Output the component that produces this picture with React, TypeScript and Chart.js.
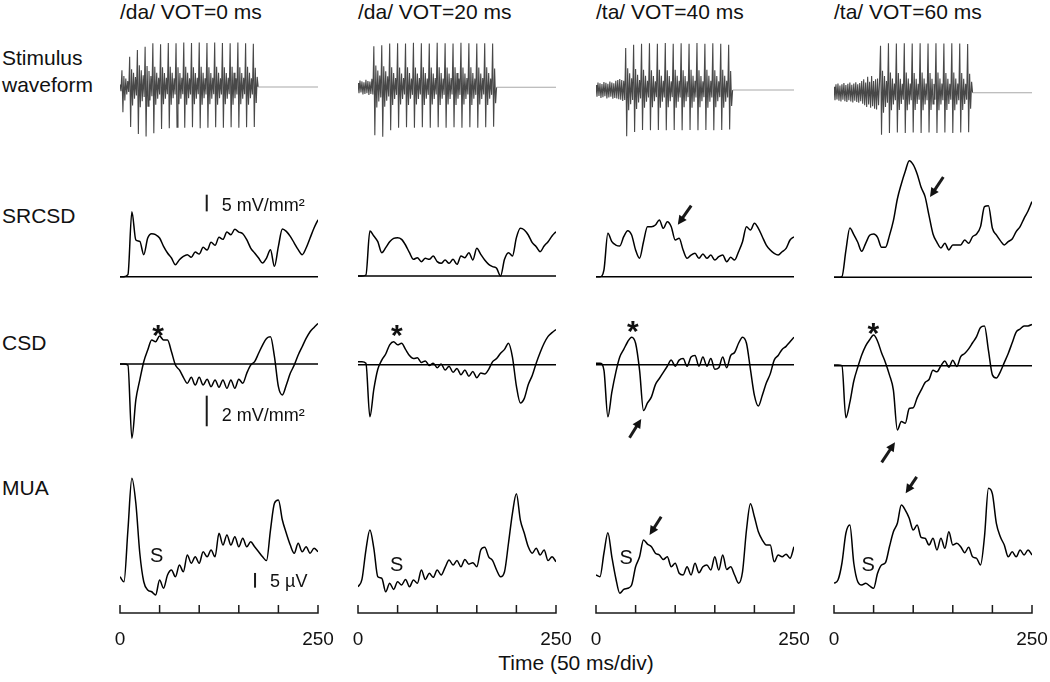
import React, { useEffect, useRef } from "react";
import { Chart, registerables } from "chart.js";

Chart.register(...registerables);

// ---------------- data ----------------
const CONDITIONS = ["/da/ VOT=0 ms", "/da/ VOT=20 ms", "/ta/ VOT=40 ms", "/ta/ VOT=60 ms"];
const ROW_LABELS = ["Stimulus", "waveform", "SRCSD", "CSD", "MUA"];
const X_AXIS_TITLE = "Time (50 ms/div)";
const TIME_RANGE = [0, 250];
const TICK_VALUES = [0, 50, 100, 150, 200, 250];
const TICK_LABELS = ["0", "", "", "", "", "250"];
const TRACE_STEP_MS = 5;

// stimulus waveforms (arbitrary units, sampled every STIM_STEP_MS from t = 0)
const STIM_STEP_MS = [1.22, 1.25, 1.25, 1.25];
const STIM_VOT0 = [
  6, -10,
  40, -60, 26, -32, 20, -18, 14, -12,
  72, -95, 42, -44, 34, -28, 24, -20,
  88, -112, 52, -48, 40, -34, 28, -24,
  96, -118, 50, -46, 38, -32, 26, -22,
  104, -110, 48, -42, 34, -28, 22, -18,
  102, -100, 47, -41, 33, -28, 22, -17,
  105, -98, 48, -42, 34, -27, 21, -18,
  104, -96, 47, -41, 33, -28, 22, -17,
  106, -97, 48, -42, 34, -27, 21, -18,
  105, -96, 47, -41, 33, -28, 22, -17,
  106, -98, 48, -42, 34, -27, 21, -18,
  105, -97, 47, -41, 33, -28, 22, -17,
  106, -96, 48, -42, 34, -27, 21, -18,
  105, -97, 47, -41, 33, -28, 22, -17,
  104, -96, 48, -42, 34, -27, 21, -18,
  106, -97, 47, -41, 33, -28, 22, -17,
  104, -96, 48, -42, 34, -27, 21, -18,
  103, -95, 46, -38, 24,
  0,
];
const STIM_VOT20 = [
  10, -14, 16, -12, 14, -17, 12, -16, 18, -14, 15, -18, 14, -16, 20, -17,
  98, -114, 52, -48, 40, -34, 28, -24,
  100, -118, 50, -46, 38, -32, 26, -22,
  104, -102, 48, -42, 34, -28, 22, -18,
  105, -96, 47, -41, 33, -28, 22, -17,
  104, -95, 48, -42, 34, -27, 21, -18,
  106, -96, 47, -41, 33, -28, 22, -17,
  105, -95, 48, -42, 34, -27, 21, -18,
  104, -96, 47, -41, 33, -28, 22, -17,
  106, -95, 48, -42, 34, -27, 21, -18,
  105, -96, 47, -41, 33, -28, 22, -17,
  104, -95, 48, -42, 34, -27, 21, -18,
  106, -96, 47, -41, 33, -28, 22, -17,
  105, -95, 48, -42, 34, -27, 21, -18,
  104, -96, 47, -41, 33, -28, 22, -17,
  105, -95, 48, -42, 34, -27, 21, -18,
  104, -94, 45, -38,
  0,
];
const STIM_VOT40 = [
  12, -16, 18, -14, 16, -19, 14, -17, 19, -15, 17, -20, 15, -18, 20, -16,
  18, -21, 16, -19, 22, -20, 24, -22, 26, -23, 24, -26, 22, -24,
  100, -110, 52, -48, 40, -34, 28, -24,
  108, -100, 50, -45, 36, -30, 24, -20,
  110, -95, 48, -42, 34, -28, 22, -18,
  111, -96, 47, -41, 33, -27, 21, -17,
  110, -95, 48, -42, 34, -28, 22, -18,
  112, -96, 47, -41, 33, -27, 21, -17,
  110, -95, 48, -42, 34, -28, 22, -18,
  111, -96, 47, -41, 33, -27, 21, -17,
  110, -95, 48, -42, 34, -28, 22, -18,
  112, -96, 47, -41, 33, -27, 21, -17,
  110, -95, 48, -42, 34, -28, 22, -18,
  111, -96, 47, -41, 33, -27, 21, -17,
  110, -95, 48, -42, 34, -28, 22, -18,
  108, -94, 45, -38,
  0,
];
const STIM_VOT60 = [
  14, -18, 20, -16, 22, -19, 17, -21, 20, -17, 23, -20, 18, -22, 21, -18,
  24, -21, 19, -23, 22, -19, 25, -22, 20, -24, 23, -20, 28, -26, 32, -30,
  24, -34, 38, -28, 26, -36, 40, -32, 28, -38, 32, -40, 34, -30, 26,
  112, -100, 52, -48, 40, -34, 28, -24,
  118, -96, 48, -42, 34, -28, 22, -18,
  117, -95, 47, -41, 33, -27, 21, -17,
  118, -96, 48, -42, 34, -28, 22, -18,
  117, -95, 47, -41, 33, -27, 21, -17,
  118, -96, 48, -42, 34, -28, 22, -18,
  117, -95, 47, -41, 33, -27, 21, -17,
  118, -96, 48, -42, 34, -28, 22, -18,
  117, -95, 47, -41, 33, -27, 21, -17,
  118, -96, 48, -42, 34, -28, 22, -18,
  117, -95, 47, -41, 33, -27, 21, -17,
  116, -94, 45, -38, 26,
  0,
];

// SRCSD (mV/mm^2), sampled every 5 ms from 0 to 250 ms
const SRCSD_VOT0 = [0, 0, 0.6, 19.5, 11, 10.6, 6.6, 11.6, 12.9, 12.6, 11.6, 9.1, 7.1, 5.6, 3.6, 5.1, 6.1, 6.6, 5.8, 7.4, 6.8, 8.8, 8.0, 10.3, 9.4, 11.8, 11.2, 13.4, 12.6, 14.2, 13.4, 12.9, 11.1, 8.6, 7.1, 5.6, 4.1, 5.6, 8.1, 3.1, 9.1, 14.3, 13.6, 12.1, 10.1, 8.1, 6.6, 8.6, 11.6, 14.6, 17.1];
const SRCSD_VOT20 = [0, 0, 0.3, 13.5, 12.0, 10.3, 7.0, 8.5, 10.3, 11.3, 11.5, 11.0, 9.3, 7.0, 5.0, 5.5, 4.3, 5.3, 5.0, 6.0, 4.3, 3.8, 4.8, 3.8, 5.0, 3.5, 6.0, 5.5, 7.0, 4.8, 8.3, 6.5, 4.8, 3.5, 2.8, 2.3, 0, 5.0, 7.0, 6.0, 11.5, 14.3, 13.8, 12.3, 10.0, 8.8, 7.3, 9.0, 10.3, 12.0, 13.3];
const SRCSD_VOT40 = [0, 0, 2.0, 13.0, 10.5, 9.5, 9.2, 12.0, 13.8, 12.5, 8.0, 5.5, 10.5, 15.0, 15.0, 15.5, 17.0, 14.5, 16.5, 15.0, 11.0, 11.5, 8.0, 5.5, 6.5, 7.0, 5.5, 6.8, 5.5, 6.5, 5.0, 6.0, 6.5, 4.5, 5.8, 5.0, 7.5, 10.5, 15.0, 14.0, 16.0, 14.5, 12.0, 9.5, 8.0, 7.0, 6.5, 7.5, 8.5, 11.0, 12.0];
const SRCSD_VOT60 = [0, 0, 0.2, 8.0, 14.8, 12.8, 10.5, 7.8, 10.2, 12.6, 13.0, 12.0, 9.0, 9.0, 12.5, 17.0, 23.5, 28.0, 31.8, 35.0, 33.8, 31.0, 27.0, 24.2, 18.5, 13.0, 10.5, 8.8, 10.2, 8.2, 9.7, 9.7, 9.7, 11.2, 10.2, 12.2, 13.0, 15.2, 21.2, 21.5, 14.7, 12.7, 11.0, 9.7, 10.7, 11.5, 13.7, 15.2, 17.7, 19.9, 22.7];

// CSD (mV/mm^2)
const CSD_VOT0 = [0, 0, -0.07, -4.85, -2.35, -1.04, 0.15, 0.91, 1.57, 1.46, 1.83, 1.57, 1.57, 0.8, -0.07, -0.39, -0.87, -1.26, -0.87, -1.37, -0.87, -1.37, -1.0, -1.48, -1.04, -1.52, -1.04, -1.59, -1.04, -1.59, -1.0, -1.26, -0.61, -0.07, 0.15, 0.7, 1.24, 1.67, 1.78, 0.48, -1.48, -2.02, -1.37, -0.61, -0.07, 0.59, 1.13, 1.67, 2.11, 2.39, 2.65];
const CSD_VOT20 = [0.2, 0.2, 0.1, -3.4, -1.6, -0.3, 0.3, 0.7, 1.3, 1.5, 1.3, 1.4, 1.0, 0.6, 0.4, 0.45, 0.15, 0.25, -0.05, 0.1, -0.2, 0.05, -0.35, -0.1, -0.5, -0.25, -0.65, -0.35, -0.75, -0.45, -0.85, -0.55, -0.6, -0.3, 0.2, 0.4, 0.75, 1.0, 1.4, 0.5, -1.4, -2.5, -2.2, -1.3, -0.7, 0.1, 0.8, 1.4, 1.85, 2.1, 2.3];
const CSD_VOT40 = [0.1, 0.1, -0.35, -3.4, -1.8, -0.5, 0.5, 1.0, 1.5, 1.8, 1.4, -0.35, -3.0, -2.5, -2.1, -1.3, -0.9, -0.5, -0.1, 0.3, -0.1, 0.3, 0.4, -0.1, 0.5, 0.6, -0.1, 0.5, -0.1, 0.4, -0.3, -0.2, 0.5, -0.2, 0.6, 0.8, 1.4, 1.8, 1.4, -0.3, -2.0, -2.7, -2.0, -1.2, -0.6, 0.3, 0.6, 1.0, 1.2, 1.5, 1.8];
const CSD_VOT60 = [0.05, 0.05, 0, -3.4, -2.4, -1.0, -0.1, 0.7, 1.3, 1.7, 2.0, 1.6, 0.85, 0.2, -0.6, -1.6, -4.2, -3.65, -3.76, -2.8, -2.75, -2.1, -1.6, -1.1, -0.9, -0.3, -0.4, 0.0, 0.3, -0.1, 0.35, -0.05, 0.6, 0.8, 1.1, 1.5, 1.9, 2.5, 2.6, 1.0, -0.6, -0.8, -0.4, 0.2, 0.8, 1.5, 2.2, 2.4, 2.6, 2.6, 2.7];

// MUA (µV)
const MUA_VOT0 = [7.9, 6.2, 23.8, 41.4, 32.9, 15.9, 6.2, 3.4, 2.8, 1.7, 6.8, 4.0, 8.5, 10.2, 7.9, 11.9, 9.6, 15.3, 12.5, 14.7, 12.5, 16.4, 14.7, 17.0, 14.7, 22.7, 18.7, 22.1, 18.7, 21.5, 18.1, 21.0, 18.1, 19.8, 18.1, 16.4, 14.7, 13.4, 23.8, 32.9, 34.0, 27.2, 22.7, 18.7, 15.9, 19.3, 16.4, 18.1, 15.9, 17.6, 16.4];
const MUA_VOT20 = [4.5, 7.0, 17.0, 23.8, 17.6, 7.9, 7.4, 2.8, 5.7, 3.6, 6.2, 5.1, 7.0, 4.5, 6.8, 5.7, 10.2, 7.0, 9.1, 7.7, 10.2, 8.5, 11.1, 13.6, 11.9, 13.4, 11.3, 13.8, 12.2, 12.7, 11.3, 17.0, 17.9, 14.7, 13.4, 10.2, 7.9, 9.6, 19.3, 29.5, 36.1, 27.2, 22.7, 18.1, 15.9, 17.6, 15.3, 17.0, 13.4, 14.7, 13.0];
const MUA_VOT40 = [8.5, 7.9, 15.9, 22.9, 14.7, 7.4, 2.3, 3.6, 4.0, 5.1, 11.3, 14.7, 20.4, 19.0, 18.1, 15.9, 15.3, 13.8, 14.7, 11.3, 12.5, 9.1, 8.5, 11.3, 8.5, 12.5, 9.3, 11.3, 11.9, 10.2, 14.7, 10.2, 15.3, 10.4, 11.3, 8.5, 5.7, 9.6, 23.8, 32.7, 28.3, 23.2, 20.4, 18.7, 18.7, 13.0, 15.3, 14.7, 15.6, 14.2, 18.1];
const MUA_VOT60 = [5.7, 6.8, 12.5, 22.7, 25.5, 12.5, 6.2, 5.1, 5.7, 4.8, 4.0, 9.1, 11.9, 12.7, 18.1, 23.2, 26.1, 32.3, 30.6, 27.8, 23.8, 25.5, 21.3, 21.0, 18.7, 21.0, 17.0, 21.0, 17.6, 23.2, 18.7, 19.3, 18.1, 16.1, 17.9, 14.7, 14.2, 11.9, 21.5, 38.0, 36.1, 26.1, 21.5, 18.7, 14.7, 16.4, 14.7, 17.0, 15.3, 17.0, 15.3];

const STIMULI = [STIM_VOT0, STIM_VOT20, STIM_VOT40, STIM_VOT60];
const SRCSD = [SRCSD_VOT0, SRCSD_VOT20, SRCSD_VOT40, SRCSD_VOT60];
const CSD = [CSD_VOT0, CSD_VOT20, CSD_VOT40, CSD_VOT60];
const MUA = [MUA_VOT0, MUA_VOT20, MUA_VOT40, MUA_VOT60];

// annotations, in data units (ms, row units)
const ASTERISKS = [
  { col: 0, t: 48, v: 2.4 },
  { col: 1, t: 49, v: 2.4 },
  { col: 2, t: 46.5, v: 2.7 },
  { col: 3, t: 49.6, v: 2.6 },
];
const S_MARKS = [
  { col: 0, t: 46.3, v: 14.7 },
  { col: 1, t: 48.9, v: 11.9 },
  { col: 2, t: 38.1, v: 14.2 },
  { col: 3, t: 43.3, v: 11.9 },
];
const ARROWS = [
  { col: 2, row: "ySr", t0: 120.2, v0: 21.3, t1: 103.3, v1: 15.6 },
  { col: 3, row: "ySr", t0: 138, v0: 30.1, t1: 121.2, v1: 24.1 },
  { col: 2, row: "yCsd", t0: 42.3, v0: -4.77, t1: 57.1, v1: -3.55 },
  { col: 3, row: "yCsd", t0: 60.2, v0: -6.32, t1: 77, v1: -5.01 },
  { col: 2, row: "yMua", t0: 82.3, v0: 28.3, t1: 67.6, v1: 22.1 },
  { col: 3, row: "yMua", t0: 104.4, v0: 41.9, t1: 90.5, v1: 36.3 },
];
const SCALE_BARS = [
  { col: 0, row: "ySr", t: 109.5, v: 19.6, size: 5, label: "5 mV/mm²", labelT: 128.4, labelV: 21.2 },
  { col: 0, row: "yCsd", t: 109.5, v: -4.07, size: 2, label: "2 mV/mm²", labelT: 128.4, labelV: -3.4 },
  { col: 0, row: "yMua", t: 170.5, v: 4.2, size: 5, label: "5 µV", labelT: 189.4, labelV: 6.1 },
];

// ---------------- layout ----------------
const FONT = '"Liberation Sans", Arial, Helvetica, sans-serif';
const COL_X0 = [120, 358, 596, 834];
const COL_W = 198;
const SIDE_PAD = 22;
const CANVAS_TOP = 30;
const CANVAS_H = 620;
const STIM_CENTER_Y = [87, 87.3, 90, 92.7];
const STIM_PX = 0.42;
const SRCSD_ZERO_Y = [276.7, 276, 276.7, 277.3];
const SRCSD_PX = 10 / 3;
const CSD_ZERO_Y = [364, 364.7, 364.7, 365.7];
const CSD_PX = 15.3;
const MUA_ZERO_Y = 600;
const MUA_PX = 2.94;
const AXIS_Y = 613;
const TICK_LEN = 8;
const TICK_LABEL_BASELINE = 645;

function yRange(zeroY: number, ppu: number) {
  return {
    min: -(CANVAS_TOP + CANVAS_H - zeroY) / ppu,
    max: (zeroY - CANVAS_TOP) / ppu,
  };
}

function tracePoints(values: number[]) {
  return values.map((v, i) => ({ x: TIME_RANGE[0] + i * TRACE_STEP_MS, y: v }));
}

function drawArrow(ctx: CanvasRenderingContext2D, x0: number, y0: number, x1: number, y1: number) {
  const dx = x1 - x0;
  const dy = y1 - y0;
  const len = Math.hypot(dx, dy);
  const ux = dx / len;
  const uy = dy / len;
  const headL = 9;
  const headW = 4.5;
  const bx = x1 - ux * headL;
  const by = y1 - uy * headL;
  ctx.lineWidth = 3;
  ctx.lineCap = "butt";
  ctx.beginPath();
  ctx.moveTo(x0, y0);
  ctx.lineTo(bx + ux, by + uy);
  ctx.stroke();
  ctx.beginPath();
  ctx.moveTo(x1, y1);
  ctx.lineTo(bx - uy * headW, by + ux * headW);
  ctx.lineTo(bx + uy * headW, by - ux * headW);
  ctx.closePath();
  ctx.fill();
}

const overlayPlugin = {
  id: "overlay",
  afterDatasetsDraw(chart: any, _args: any, opts: any) {
    const col = opts.col as number;
    const ctx: CanvasRenderingContext2D = chart.ctx;
    const xs = chart.scales.x;
    const px = (t: number) => xs.getPixelForValue(t);
    const py = (id: string, v: number) => chart.scales[id].getPixelForValue(v);
    ctx.save();
    ctx.strokeStyle = "#1a1a1a";
    ctx.fillStyle = "#111";

    // time axis with upward ticks
    const ay = AXIS_Y - CANVAS_TOP;
    ctx.lineWidth = 1.5;
    ctx.beginPath();
    ctx.moveTo(px(TIME_RANGE[0]), ay);
    ctx.lineTo(px(TIME_RANGE[1]), ay);
    TICK_VALUES.forEach((t) => {
      ctx.moveTo(px(t), ay + 0.75);
      ctx.lineTo(px(t), ay - TICK_LEN);
    });
    ctx.stroke();
    ctx.font = `19px ${FONT}`;
    ctx.textAlign = "center";
    ctx.textBaseline = "alphabetic";
    TICK_VALUES.forEach((t, i) => {
      if (TICK_LABELS[i]) ctx.fillText(TICK_LABELS[i], px(t), TICK_LABEL_BASELINE - CANVAS_TOP);
    });

    // asterisks
    ASTERISKS.filter((a) => a.col === col).forEach((a) => {
      const size = 30;
      ctx.font = `bold ${size}px ${FONT}`;
      ctx.textAlign = "center";
      ctx.textBaseline = "alphabetic";
      ctx.fillText("*", px(a.t), py("yCsd", a.v) + 0.58 * size);
    });

    // S labels
    S_MARKS.filter((s) => s.col === col).forEach((s) => {
      ctx.font = `20px ${FONT}`;
      ctx.textAlign = "center";
      ctx.textBaseline = "middle";
      ctx.fillText("S", px(s.t), py("yMua", s.v));
    });

    // arrows
    ARROWS.filter((a) => a.col === col).forEach((a) => {
      drawArrow(ctx, px(a.t0), py(a.row, a.v0), px(a.t1), py(a.row, a.v1));
    });

    // scale bars
    SCALE_BARS.filter((b) => b.col === col).forEach((b) => {
      const x = px(b.t);
      ctx.lineWidth = 2;
      ctx.beginPath();
      ctx.moveTo(x, py(b.row, b.v));
      ctx.lineTo(x, py(b.row, b.v + b.size));
      ctx.stroke();
      ctx.font = `18px ${FONT}`;
      ctx.textAlign = "left";
      ctx.textBaseline = "middle";
      ctx.fillText(b.label, px(b.labelT), py(b.row, b.labelV));
    });
    ctx.restore();
  },
};

function ColumnChart({ col }: { col: number }) {
  const ref = useRef<HTMLCanvasElement | null>(null);
  useEffect(() => {
    const canvas = ref.current;
    if (!canvas) return;
    const step = STIM_STEP_MS[col];
    const stimPts = STIMULI[col].map((v, i) => ({ x: i * step, y: v }));
    const stimEnd = stimPts[stimPts.length - 1].x;
    stimPts.push({ x: TIME_RANGE[1], y: 0 });
    const baseline = [
      { x: TIME_RANGE[0], y: 0 },
      { x: TIME_RANGE[1], y: 0 },
    ];
    const traceStyle = {
      borderColor: "#000",
      borderWidth: 1.5,
      pointRadius: 0,
      cubicInterpolationMode: "monotone",
    };
    const chart = new Chart(canvas, {
      type: "line",
      data: {
        datasets: [
          {
            data: stimPts,
            yAxisID: "yStim",
            borderColor: "#484848",
            borderWidth: 1.1,
            pointRadius: 0,
            tension: 0,
            segment: {
              borderColor: (c: any) => (c.p0.parsed.x >= stimEnd ? "#a8a8a8" : "#484848"),
            },
          },
          { data: baseline, yAxisID: "ySr", ...traceStyle },
          { data: tracePoints(SRCSD[col]), yAxisID: "ySr", ...traceStyle },
          { data: baseline, yAxisID: "yCsd", ...traceStyle },
          { data: tracePoints(CSD[col]), yAxisID: "yCsd", ...traceStyle },
          { data: tracePoints(MUA[col]), yAxisID: "yMua", ...traceStyle },
        ] as any,
      },
      options: {
        animation: false,
        responsive: false,
        devicePixelRatio: 1,
        events: [],
        layout: { padding: { left: SIDE_PAD, right: SIDE_PAD, top: 0, bottom: 0 } },
        plugins: {
          legend: { display: false },
          tooltip: { enabled: false },
          overlay: { col },
        } as any,
        scales: {
          x: { type: "linear", min: TIME_RANGE[0], max: TIME_RANGE[1], display: false },
          yStim: { type: "linear", display: false, ...yRange(STIM_CENTER_Y[col], STIM_PX) },
          ySr: { type: "linear", display: false, ...yRange(SRCSD_ZERO_Y[col], SRCSD_PX) },
          yCsd: { type: "linear", display: false, ...yRange(CSD_ZERO_Y[col], CSD_PX) },
          yMua: { type: "linear", display: false, ...yRange(MUA_ZERO_Y, MUA_PX) },
        },
      },
      plugins: [overlayPlugin as any],
    });
    return () => chart.destroy();
  }, [col]);
  return (
    <canvas
      ref={ref}
      width={COL_W + 2 * SIDE_PAD}
      height={CANVAS_H}
      style={{
        position: "absolute",
        left: COL_X0[col] - SIDE_PAD,
        top: CANVAS_TOP,
        width: COL_W + 2 * SIDE_PAD,
        height: CANVAS_H,
      }}
    />
  );
}

function Text({ x, baseline, size, children, center }: any) {
  return (
    <div
      style={{
        position: "absolute",
        left: x,
        top: baseline - 0.8465 * size,
        fontFamily: FONT,
        fontSize: size,
        lineHeight: `${size}px`,
        whiteSpace: "nowrap",
        color: "#111",
        transform: center ? "translateX(-50%)" : undefined,
      }}
    >
      {children}
    </div>
  );
}

const ROW_LABEL_BASELINES = [65, 92, 223, 350, 495];

export default function App() {
  return (
    <div
      style={{
        position: "fixed",
        left: 0,
        top: 0,
        width: 1050,
        height: 682,
        overflow: "hidden",
        background: "#fff",
      }}
    >
      {CONDITIONS.map((c, i) => (
        <Text key={c} x={COL_X0[i]} baseline={19} size={21}>
          {c}
        </Text>
      ))}
      {ROW_LABELS.map((r, i) => (
        <Text key={r} x={2} baseline={ROW_LABEL_BASELINES[i]} size={21}>
          {r}
        </Text>
      ))}
      {[0, 1, 2, 3].map((c) => (
        <ColumnChart key={c} col={c} />
      ))}
      <Text x={576} baseline={670} size={21} center>
        {X_AXIS_TITLE}
      </Text>
    </div>
  );
}
